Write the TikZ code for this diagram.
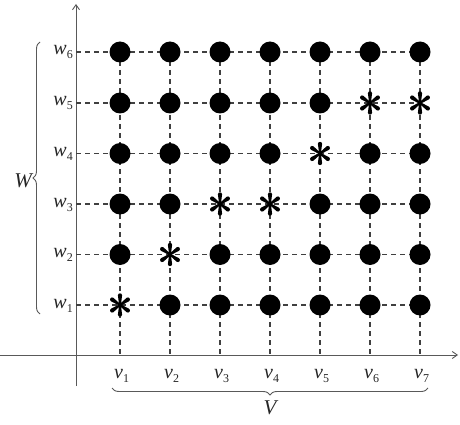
\documentclass[tikz,border=0pt]{standalone}
\usepackage{fontspec}
\setmainfont{Liberation Serif}
\usetikzlibrary{arrows.meta,decorations.pathreplacing}
\begin{document}
\begin{tikzpicture}[x=1pt,y=-1pt,
  axis/.style={draw=black!65,line width=0.9pt},
  gridline/.style={draw=black!75,dashed,dash pattern=on 5pt off 4pt,line width=1.2pt},
  dotmark/.style={circle,fill=black,inner sep=0pt,minimum size=21pt},
  lab/.style={font=\fontsize{20}{24}\selectfont\itshape,inner sep=0pt,text=black!85},
  bracestyle/.style={draw=black!65,line width=0.9pt,decorate,decoration={brace,amplitude=7pt}}
]
\useasboundingbox (0,0) rectangle (460,425);
% axes
\coordinate (O) at (76,355);
\coordinate (ytop) at (76,4);
\coordinate (ybot) at (76,386);
\coordinate (xleft) at (0,355);
\coordinate (xright) at (458,355);
\draw[axis,-{Straight Barb[length=5pt,width=7pt]}] (ybot) -- (ytop);
\draw[axis,-{Straight Barb[length=5pt,width=7pt]}] (xleft) -- (xright);
% grid coordinates
\foreach \i/\x in {1/120,2/170,3/220,4/270,5/320,6/370,7/420}{
  \coordinate (c\i) at (\x,355);
  \coordinate (t\i) at (\x,52);
}
\foreach \j/\y in {1/305,2/254.5,3/204,4/153.5,5/103,6/52}{
  \coordinate (r\j) at (76,\y);
  \coordinate (e\j) at (420,\y);
}
\foreach \i in {1,...,7}{ \draw[gridline] (t\i) -- (c\i); }
\foreach \j in {1,...,6}{ \draw[gridline] (r\j) -- (e\j); }
% markers
\newcommand{\astmark}[2]{%
  \begin{scope}[shift={(#1,#2)}]
    \foreach \a in {90,270,35,145,215,325}{
      \fill[rotate=\a] (0,-0.9) -- (9.6,-2.1) arc[start angle=-90,end angle=90,radius=2.1] -- (0,0.9) -- cycle;
    }
    \fill (0,0) circle (1.4);
  \end{scope}}
\foreach \i/\x in {1/120,2/170,3/220,4/270,5/320,6/370,7/420}{
  \foreach \j/\y in {1/305,2/254.5,3/204,4/153.5,5/103,6/52}{
    \pgfmathtruncatemacro{\isast}{(\i==1 && \j==1) || (\i==2 && \j==2) || (\i==3 && \j==3) || (\i==4 && \j==3) || (\i==5 && \j==4) || (\i==6 && \j==5) || (\i==7 && \j==5)}
    \ifnum\isast=1
      \astmark{\x}{\y}
    \else
      \node[dotmark] (d\i\j) at (\x,\y) {};
    \fi
  }
}
% w labels
\foreach \j/\y in {1/305,2/254.5,3/204,4/153.5,5/103,6/52}{
  \node[lab,anchor=base east] (w\j) at (73,\y+3) {w\raisebox{-4pt}{\upshape\fontsize{12}{13}\selectfont\j}};
}
% v labels
\foreach \i/\x in {1/120,2/170,3/220,4/270,5/320,6/370,7/420}{
  \node[lab,anchor=base west] (v\i) at (\x-6,378) {v\raisebox{-4pt}{\upshape\fontsize{12}{13}\selectfont\i}};
}
% braces
\coordinate (wb1) at (40,314);
\coordinate (wb2) at (40,42);
\draw[bracestyle] (wb1) -- (wb2);
\node[lab,font=\fontsize{21}{24}\selectfont\itshape,anchor=east] (W) at (32,181) {W};
\coordinate (vb1) at (112,388);
\coordinate (vb2) at (428,388);
\draw[bracestyle] (vb2) -- (vb1);
\node[lab,font=\fontsize{21}{24}\selectfont\itshape,anchor=north] (V) at (270,401) {V};
\end{tikzpicture}
\end{document}
